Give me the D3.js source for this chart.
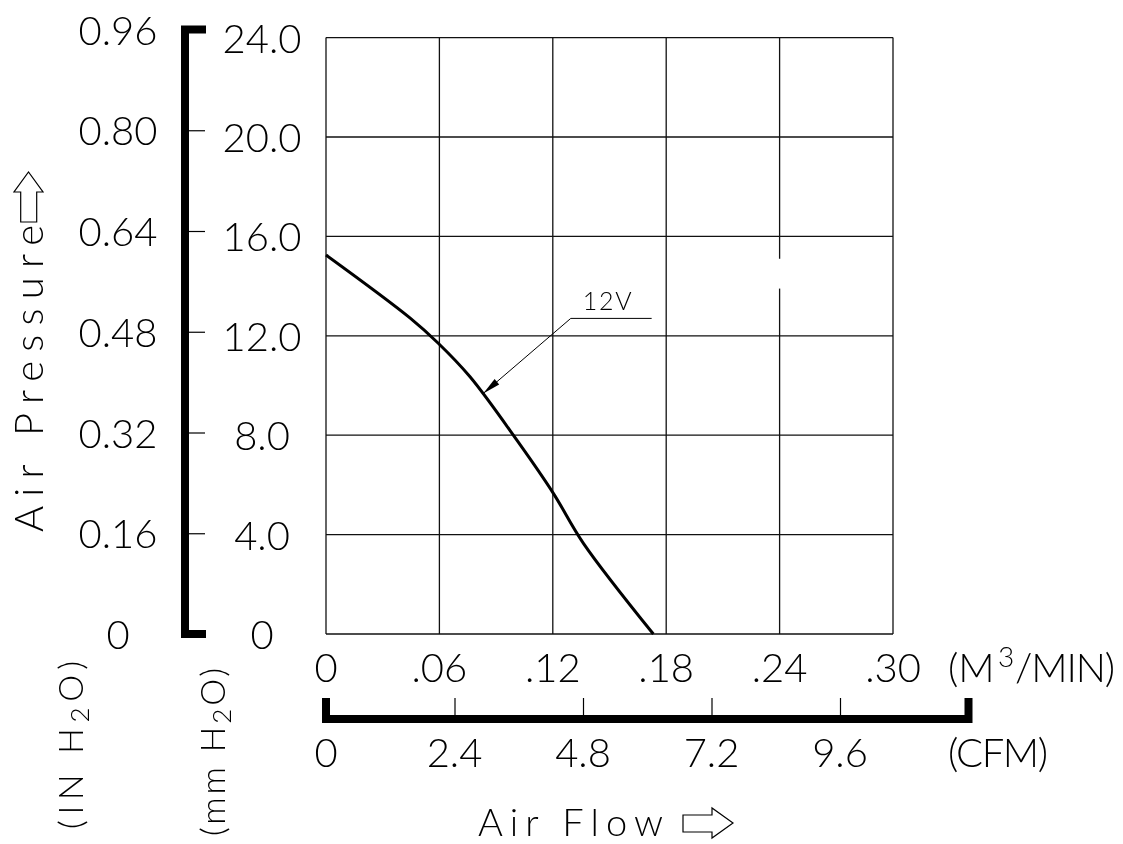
<!DOCTYPE html>
<html><head><meta charset="utf-8">
<script src="https://cdn.jsdelivr.net/npm/d3@7"></script>
<style>
body{margin:0;background:#fff;}
svg{filter:grayscale(1);}
text{font-family:Lato,Roboto,"DejaVu Sans",sans-serif;font-weight:300;fill:#000;}
</style></head><body>
<svg id="c" width="1123" height="844"></svg>
<script>
// ---- data ----
const flowM3     = [0, 0.0444, 0.0594, 0.0762, 0.1009, 0.1203, 0.1362, 0.1732];
const pressureMm = [15.25, 12.72, 11.70, 10.35, 7.81, 5.66, 3.65, 0];
const mmTicks  = [0, 4, 8, 12, 16, 20, 24];
const mmLabels = ["0", "4.0", "8.0", "12.0", "16.0", "20.0", "24.0"];
const inLabels = ["0", "0.16", "0.32", "0.48", "0.64", "0.80", "0.96"];
const m3Ticks  = [0, 0.06, 0.12, 0.18, 0.24, 0.30];
const m3Labels = ["0", ".06", ".12", ".18", ".24", ".30"];
const cfmTicks  = [0, 2.4, 4.8, 7.2, 9.6];
const cfmLabels = ["0", "2.4", "4.8", "7.2", "9.6"];
const cfmMax = 12;
const seriesName = "12V";
const tipFlow = 0.0832, tipP = 9.68;
const elbowFlow = 0.1295, elbowP = 12.70, leaderEndFlow = 0.1723;
const gapFlow = 0.24, gapFrom = 15.1, gapTo = 13.9;

// ---- helpers ----
function fitWidth(sel, target) {
  const n = sel.text().length;
  const w = sel.node().getComputedTextLength();
  if (n > 1) sel.attr("letter-spacing", (target - w) / (n - 1));
  return sel;
}

// ---- scales ----
const svg = d3.select("#c");
const x  = d3.scaleLinear([0, 0.30], [326, 893]);
const y  = d3.scaleLinear([0, 24], [634, 37.6]);
const yL = d3.scaleLinear([0, 24], [634, 29.5]);
const xC = d3.scaleLinear([0, cfmMax], [326, 968.5]);

// ---- grid ----
const g = svg.append("g").attr("stroke", "#111").attr("stroke-width", 1.3);
g.selectAll(".v").data(m3Ticks).join("line")
  .attr("x1", d => x(d)).attr("x2", d => x(d)).attr("y1", y(0)).attr("y2", y(24));
g.selectAll(".h").data(mmTicks).join("line")
  .attr("y1", d => y(d)).attr("y2", d => y(d)).attr("x1", x(0)).attr("x2", x(0.30));
svg.append("rect").attr("x", x(gapFlow) - 3).attr("width", 6)
  .attr("y", y(gapFrom)).attr("height", y(gapTo) - y(gapFrom)).attr("fill", "#fff");

// ---- curve ----
const pts = flowM3.map((f, i) => [x(f), y(pressureMm[i])]);
svg.append("path").attr("d", d3.line().curve(d3.curveCatmullRom.alpha(0.5))(pts))
  .attr("fill", "none").attr("stroke", "#000").attr("stroke-width", 3);

// ---- annotation ----
const tip = [x(tipFlow), y(tipP)], el = [x(elbowFlow), y(elbowP)];
svg.append("path").attr("d", `M${x(leaderEndFlow)},${el[1]}H${el[0]}L${tip[0]},${tip[1]}`)
  .attr("fill", "none").attr("stroke", "#000").attr("stroke-width", 1);
const ang = Math.atan2(el[1] - tip[1], el[0] - tip[0]);
const L = 18, W = 3.5;
const bx = tip[0] + L * Math.cos(ang), by = tip[1] + L * Math.sin(ang);
svg.append("path").attr("d", `M${tip[0]},${tip[1]}L${bx - W * Math.sin(ang)},${by + W * Math.cos(ang)}L${bx + W * Math.sin(ang)},${by - W * Math.cos(ang)}Z`)
  .attr("fill", "#000");
fitWidth(svg.append("text").attr("x", el[0] + 12).attr("y", el[1] - 8).attr("font-size", 25).text(seriesName), 49);

// ---- left bracket axis ----
svg.append("path").attr("d", `M206,${yL(24)}H185V${yL(0)}H206`)
  .attr("fill", "none").attr("stroke", "#000").attr("stroke-width", 8).attr("stroke-linejoin", "miter");
const la = svg.append("g").attr("transform", "translate(189,0)")
  .call(d3.axisRight(yL).tickValues(mmTicks.slice(1, -1)).tickSize(16).tickFormat(""));
la.select(".domain").remove();
la.selectAll("line").attr("stroke", "#000").attr("stroke-width", 1.2);

svg.selectAll(".inl").data(mmTicks).join("text")
  .attr("x", 118).attr("y", d => yL(d) + 15).attr("text-anchor", "middle").attr("font-size", 40)
  .text((d, i) => inLabels[i]);
svg.selectAll(".mml").data(mmTicks).join("text")
  .attr("x", 262).attr("y", d => y(d) + 15).attr("text-anchor", "middle").attr("font-size", 40)
  .text((d, i) => mmLabels[i]);

// ---- bottom labels ----
svg.selectAll(".m3l").data(m3Ticks).join("text")
  .attr("x", d => x(d)).attr("y", 682).attr("text-anchor", "middle").attr("font-size", 40)
  .text((d, i) => m3Labels[i]);
svg.append("text").attr("x", 948).attr("y", 682).attr("font-size", 40).text("(M");
svg.append("text").attr("x", 998).attr("y", 667).attr("font-size", 28).text("3");
fitWidth(svg.append("text").attr("x", 1015).attr("y", 682).attr("font-size", 40).text("/MIN)"), 100);

// CFM bracket
svg.append("path").attr("d", `M${xC(0)},698V719H${xC(cfmMax)}V698`)
  .attr("fill", "none").attr("stroke", "#000").attr("stroke-width", 8).attr("stroke-linejoin", "miter");
const ba = svg.append("g").attr("transform", "translate(0,715)")
  .call(d3.axisTop(xC).tickValues(cfmTicks.slice(1)).tickSize(17).tickFormat(""));
ba.select(".domain").remove();
ba.selectAll("line").attr("stroke", "#000").attr("stroke-width", 1.2);
svg.selectAll(".cfml").data(cfmTicks).join("text")
  .attr("x", d => xC(d)).attr("y", 767).attr("text-anchor", "middle").attr("font-size", 40)
  .text((d, i) => cfmLabels[i]);
fitWidth(svg.append("text").attr("x", 948).attr("y", 767).attr("font-size", 40).text("(CFM)"), 100);

// ---- titles ----
fitWidth(svg.append("text").attr("x", 478).attr("y", 836).attr("font-size", 38).text("Air Flow"), 185);
svg.append("path").attr("d", "M683,815H712V808L733,823L712,838V832H683Z")
  .attr("fill", "none").attr("stroke", "#000").attr("stroke-width", 1.2);

fitWidth(svg.append("text").attr("transform", "translate(43,532) rotate(-90)").attr("font-size", 40).text("Air Pressure"), 307);
svg.append("path").attr("d", "M20.7,222V192H14L28.5,172L43,192H36.7V222Z")
  .attr("fill", "none").attr("stroke", "#000").attr("stroke-width", 1.2);

function unitLabel(tx, ty, pre) {
  const t = svg.append("text").attr("transform", `translate(${tx},${ty}) rotate(-90)`)
    .attr("font-size", 34);
  t.append("tspan").text(pre + " H");
  t.append("tspan").attr("dy", 6).attr("font-size", 26).text("2");
  t.append("tspan").attr("dy", -6).text("O)");
  const n = t.text().length, w = t.node().getComputedTextLength();
  t.attr("letter-spacing", (168 - w) / (n - 1));
}
unitLabel(83, 829, "(IN");
unitLabel(225, 836, "(mm");
</script></body></html>
